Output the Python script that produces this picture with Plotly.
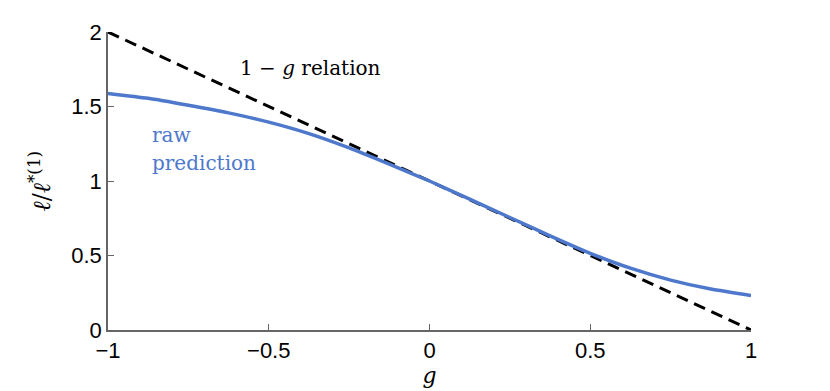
import plotly.graph_objects as go

# g values and the raw prediction
g_vals = [-1.0, -0.875, -0.75, -0.625, -0.5, -0.375, -0.25, -0.125, 0.0,
          0.125, 0.25, 0.375, 0.5, 0.625, 0.75, 0.875, 1.0]
raw_pred = [1.588, 1.555, 1.508, 1.457, 1.395, 1.318, 1.222, 1.113, 1.0,
            0.878, 0.755, 0.632, 0.515, 0.415, 0.335, 0.275, 0.232]

# 1 - g relation (end points)
rel_g = [-1.0, 1.0]
rel_val = [2.0, 0.0]

x_ticks = [-1, -0.5, 0, 0.5, 1]
x_ticklabels = ["\u22121", "\u22120.5", "0", "0.5", "1"]
y_ticks = [0, 0.5, 1, 1.5, 2]
y_ticklabels = ["0", "0.5", "1", "1.5", "2"]

blue = "#4d78cc"
serif = "DejaVu Serif"

fig = go.Figure()

fig.add_trace(go.Scatter(
    x=rel_g, y=rel_val, mode="lines",
    line=dict(color="black", width=3, dash="12px,7px"),
    showlegend=False,
))

fig.add_trace(go.Scatter(
    x=g_vals, y=raw_pred, mode="lines",
    line=dict(color=blue, width=3.5, shape="spline", smoothing=0.6),
    showlegend=False,
))

# text labels
fig.add_annotation(x=-0.37, y=1.76, text="1 \u2212 <i>g</i> relation",
                   showarrow=False, font=dict(family=serif, size=20, color="black"))
fig.add_annotation(x=-0.87, y=1.31, text="raw", xanchor="left",
                   showarrow=False, font=dict(family=serif, size=20, color=blue))
fig.add_annotation(x=-0.87, y=1.12, text="prediction", xanchor="left",
                   showarrow=False, font=dict(family=serif, size=20, color=blue))

# the page body adds 8px around the plot, so the figure is sized to fit
fig.update_layout(
    width=822, height=383,
    margin=dict(l=100, r=79, t=19, b=61),
    plot_bgcolor="white", paper_bgcolor="white",
    font=dict(family="Liberation Sans", size=22, color="black"),
)

fig.update_xaxes(
    range=[-1, 1], tickvals=x_ticks, ticktext=x_ticklabels,
    showgrid=False, zeroline=False,
    showline=True, linecolor="#666666", linewidth=1.5,
    ticks="inside", ticklen=6, tickcolor="#666666",
    title=dict(text="<i>g</i>", font=dict(family=serif, size=22), standoff=0),
)
fig.update_yaxes(
    range=[0, 2], tickvals=y_ticks, ticktext=y_ticklabels,
    showgrid=False, zeroline=False,
    showline=True, linecolor="#666666", linewidth=1.5,
    ticks="inside", ticklen=6, tickcolor="#666666",
    title=dict(text="<i>\u2113</i>/<i>\u2113</i><sup>*(1)</sup>",
               font=dict(family=serif, size=24), standoff=14),
)

fig.write_html("out.html")
